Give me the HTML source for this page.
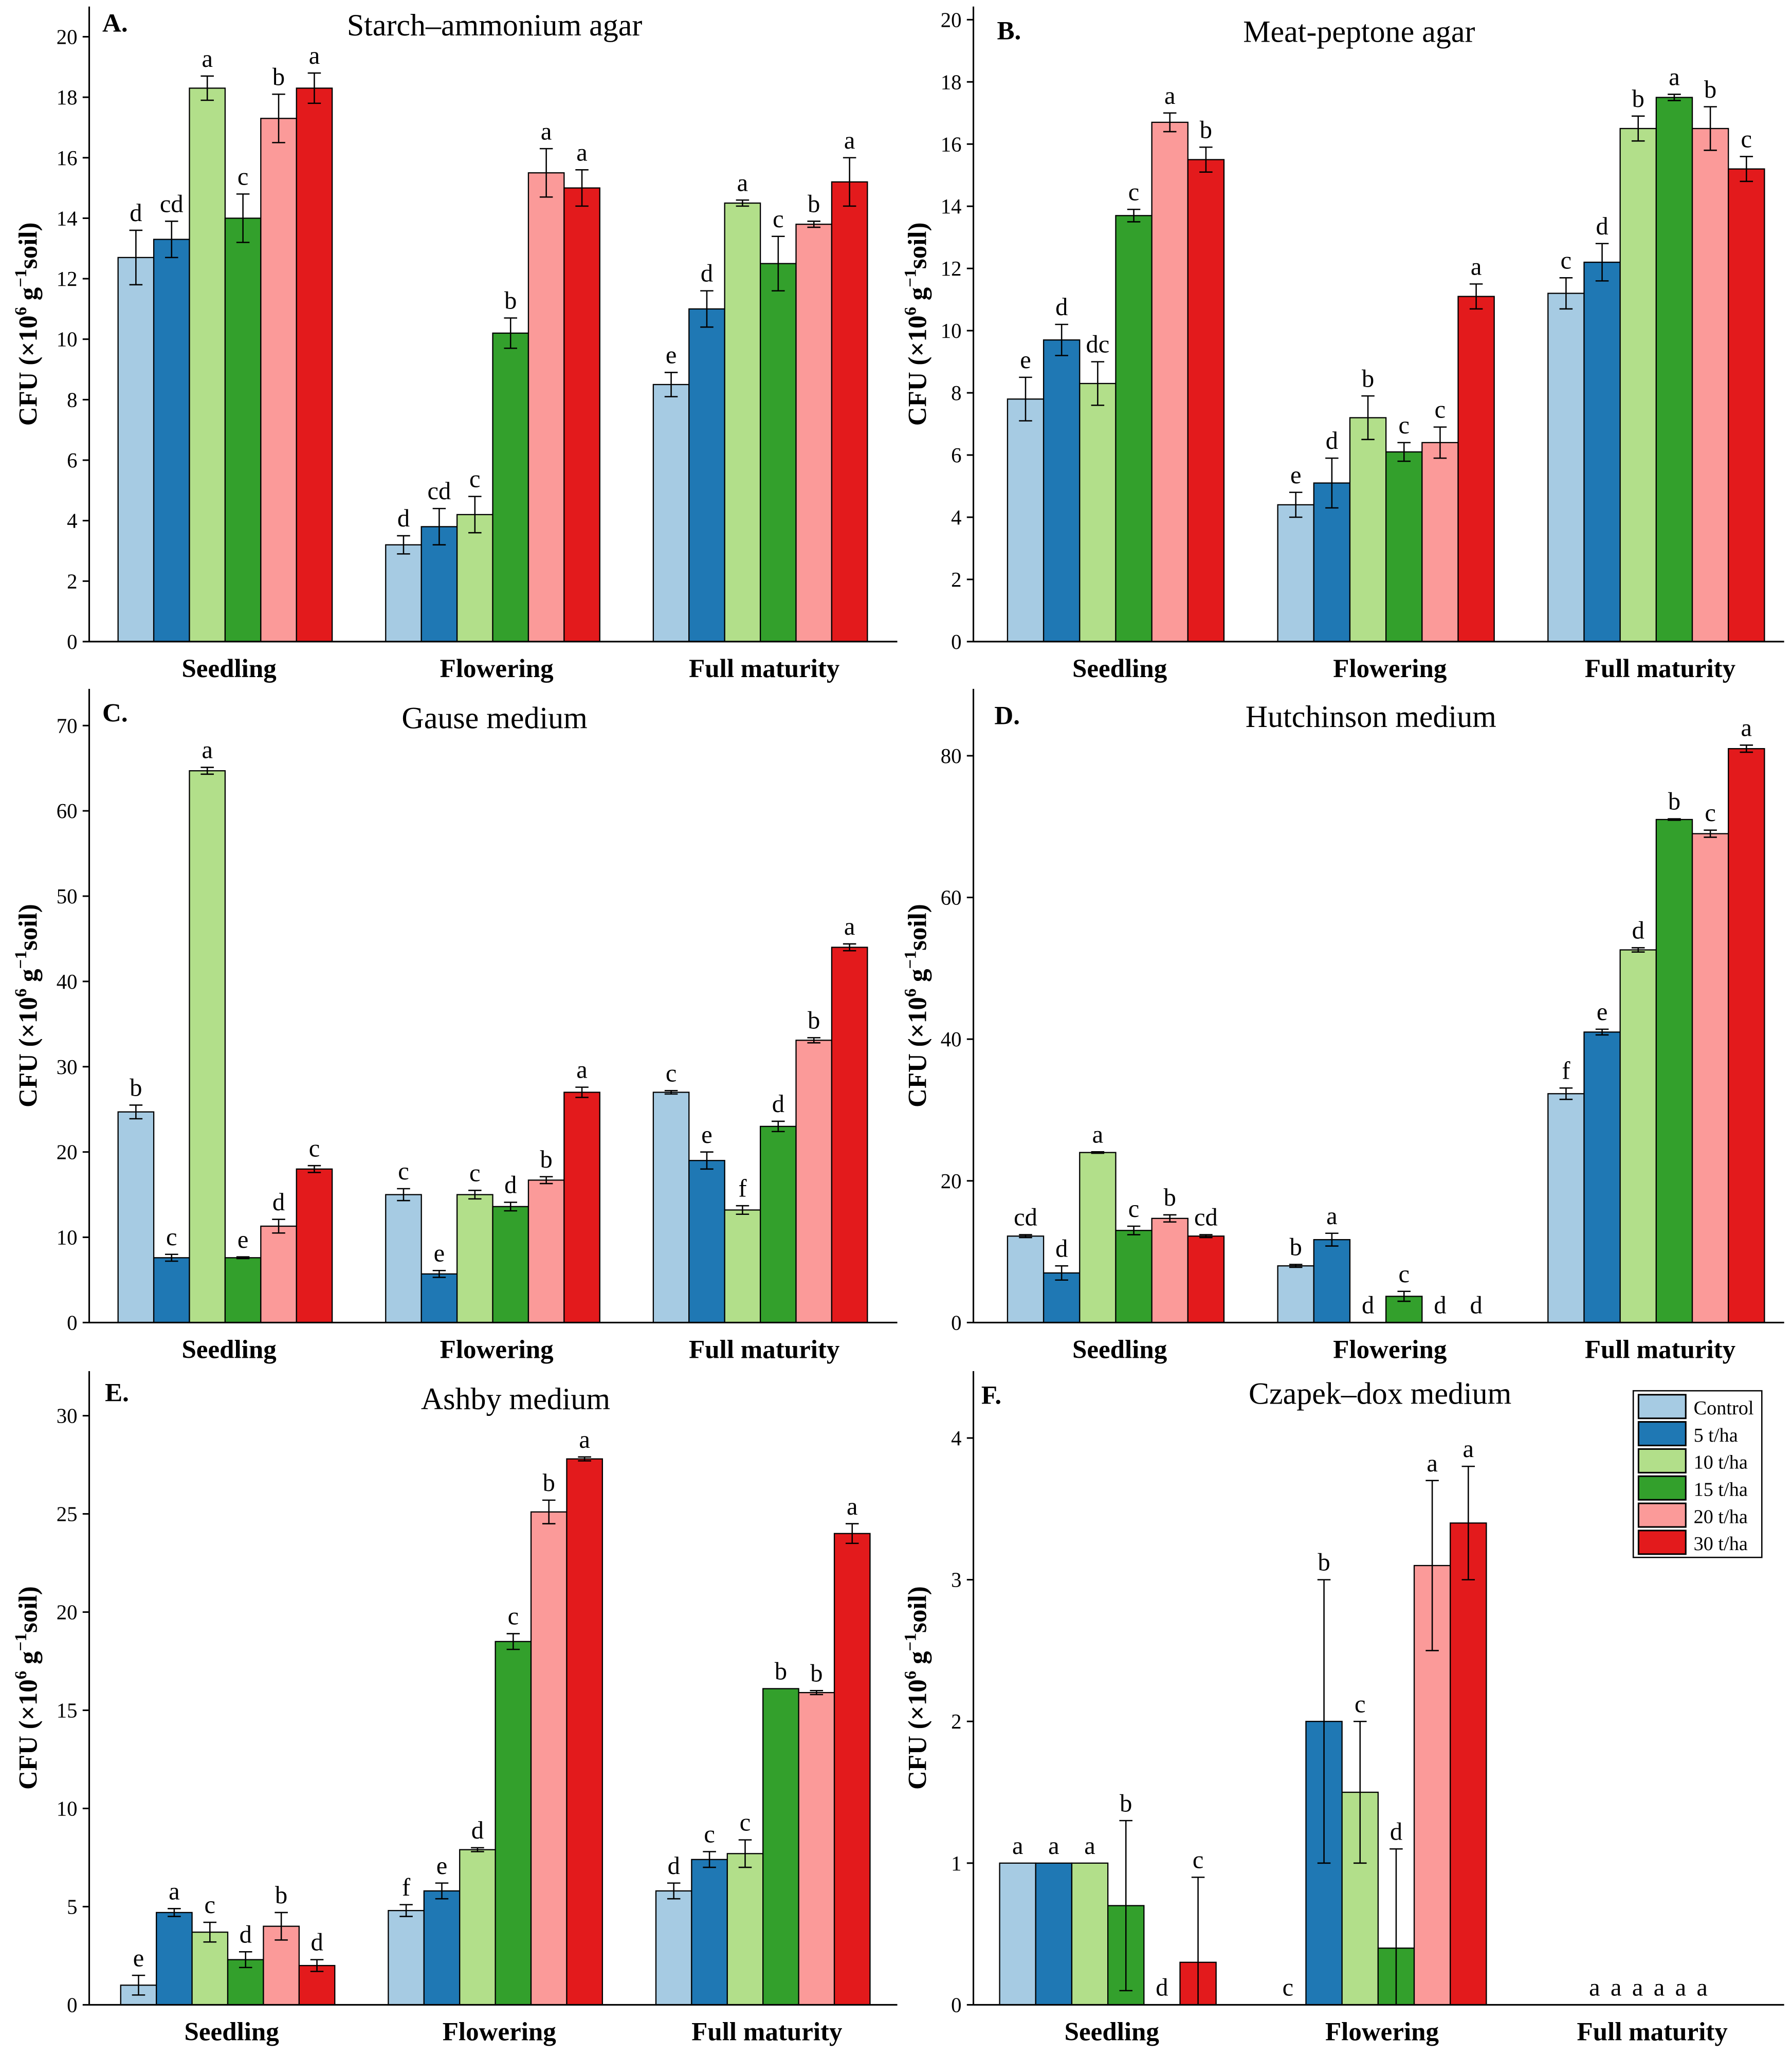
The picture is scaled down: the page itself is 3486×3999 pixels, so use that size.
<!DOCTYPE html>
<html><head><meta charset="utf-8"><style>html,body{margin:0;padding:0;background:#fff}svg{display:block}text{font-family:"Liberation Serif",serif}</style></head>
<body>
<svg id="chart" width="3486" height="3999" viewBox="0 0 1366 1567" xmlns="http://www.w3.org/2000/svg"></svg>
<script>
const categories = ["Seedling","Flowering","Full maturity"];
const seriesNames = ["Control","5 t/ha","10 t/ha","15 t/ha","20 t/ha","30 t/ha"];
const colors = ["#a6cbe3","#1f78b4","#b2df8a","#33a02c","#fb9a99","#e31a1c"];

const aValues = [[12.7,13.3,18.3,14,17.3,18.3],[3.2,3.8,4.2,10.2,15.5,15],[8.5,11,14.5,12.5,13.8,15.2]];
const aErr = [[0.9,0.6,0.4,0.8,0.8,0.5],[0.3,0.6,0.6,0.5,0.8,0.6],[0.4,0.6,0.1,0.9,0.1,0.8]];
const aLetters = [["d","cd","a","c","b","a"],["d","cd","c","b","a","a"],["e","d","a","c","b","a"]];
const aTicks = [0,2,4,6,8,10,12,14,16,18,20];

const bValues = [[7.8,9.7,8.3,13.7,16.7,15.5],[4.4,5.1,7.2,6.1,6.4,11.1],[11.2,12.2,16.5,17.5,16.5,15.2]];
const bErr = [[0.7,0.5,0.7,0.2,0.3,0.4],[0.4,0.8,0.7,0.3,0.5,0.4],[0.5,0.6,0.4,0.1,0.7,0.4]];
const bLetters = [["e","d","dc","c","a","b"],["e","d","b","c","c","a"],["c","d","b","a","b","c"]];
const bTicks = [0,2,4,6,8,10,12,14,16,18,20];

const cValues = [[24.7,7.6,64.7,7.6,11.3,18],[15,5.7,15,13.6,16.7,27],[27,19,13.2,23,33.1,44]];
const cErr = [[0.8,0.4,0.4,0.1,0.8,0.4],[0.7,0.4,0.5,0.5,0.4,0.6],[0.2,1,0.5,0.6,0.3,0.4]];
const cLetters = [["b","c","a","e","d","c"],["c","e","c","d","b","a"],["c","e","f","d","b","a"]];
const cTicks = [0,10,20,30,40,50,60,70];

const dValues = [[12.2,7,24,13,14.7,12.2],[8,11.7,0,3.7,0,0],[32.3,41,52.6,71,69,81]];
const dErr = [[0.2,1,0.1,0.6,0.5,0.2],[0.2,0.9,0,0.7,0,0],[0.8,0.4,0.3,0.1,0.5,0.5]];
const dLetters = [["cd","d","a","c","b","cd"],["b","a","d","c","d","d"],["f","e","d","b","c","a"]];
const dTicks = [0,20,40,60,80];

const eValues = [[1,4.7,3.7,2.3,4,2],[4.8,5.8,7.9,18.5,25.1,27.8],[5.8,7.4,7.7,16.1,15.9,24]];
const eErr = [[0.5,0.2,0.5,0.4,0.7,0.3],[0.3,0.4,0.1,0.4,0.6,0.1],[0.4,0.4,0.7,0,0.1,0.5]];
const eLetters = [["e","a","c","d","b","d"],["f","e","d","c","b","a"],["d","c","c","b","b","a"]];
const eTicks = [0,5,10,15,20,25,30];

const fValues = [[1,1,1,0.7,0,0.3],[0,2,1.5,0.4,3.1,3.4],[0,0,0,0,0,0]];
const fErr = [[0,0,0,0.6,0,0.6],[0,1,0.5,0.7,0.6,0.4],[0,0,0,0,0,0]];
const fLetters = [["a","a","a","b","d","c"],["c","b","c","d","a","a"],["a","a","a","a","a","a"]];
const fTicks = [0,1,2,3,4];

const NS="http://www.w3.org/2000/svg";
const svg=document.getElementById('chart');
function mk(tag,attrs,parent,txt){const e=document.createElementNS(NS,tag);for(const k in attrs)e.setAttribute(k,attrs[k]);if(txt!==undefined)e.textContent=txt;(parent||svg).appendChild(e);return e;}

const panels=[
 {id:"a",letter:"A.",title:"Starch–ammonium agar",vals:aValues,err:aErr,let:aLetters,ticks:aTicks,max:20,x0:68,x1:684,top:5,base:489,ymaxPix:28,gstart:90,gstep:204,bw:27.2,lx:78,ly:24,tx:377,ty:27,ylx:28},
 {id:"b",letter:"B.",title:"Meat-peptone agar",vals:bValues,err:bErr,let:bLetters,ticks:bTicks,max:20,x0:742,x1:1360,top:5,base:489,ymaxPix:15,gstart:768,gstep:206,bw:27.5,lx:760,ly:30,tx:1036,ty:32,ylx:706},
 {id:"c",letter:"C.",title:"Gause medium",vals:cValues,err:cErr,let:cLetters,ticks:cTicks,max:70,x0:68,x1:684,top:525,base:1008,ymaxPix:553,gstart:90,gstep:204,bw:27.2,lx:78,ly:550,tx:377,ty:555,ylx:28},
 {id:"d",letter:"D.",title:"Hutchinson medium",vals:dValues,err:dErr,let:dLetters,ticks:dTicks,max:80,x0:742,x1:1360,top:525,base:1008,ymaxPix:576,gstart:768,gstep:206,bw:27.5,lx:758,ly:552,tx:1045,ty:554,ylx:706},
 {id:"e",letter:"E.",title:"Ashby medium",vals:eValues,err:eErr,let:eLetters,ticks:eTicks,max:30,x0:68,x1:684,top:1045,base:1528,ymaxPix:1079,gstart:92,gstep:204,bw:27.2,lx:80,ly:1068,tx:393,ty:1074,ylx:28},
 {id:"f",letter:"F.",title:"Czapek–dox medium",vals:fValues,err:fErr,let:fLetters,ticks:fTicks,max:4,x0:742,x1:1360,top:1045,base:1528,ymaxPix:1096,gstart:762,gstep:206,bw:27.5,lx:748,ly:1070,tx:1052,ty:1070,ylx:706}
];

panels.forEach(p=>{
  const g=mk('g',{});
  
  
  const y=v=>p.base-(v/p.max)*(p.base-p.ymaxPix);
  p.vals.forEach((grp,gi)=>{
    grp.forEach((v,si)=>{
      const x=p.gstart+gi*p.gstep+si*p.bw;
      if(v>0){
        const r=mk('rect',{x:x,y:y(v),width:p.bw,height:p.base-y(v),fill:colors[si],stroke:'#000','stroke-width':0.9},g);
        
        
      }
      const e=p.err[gi][si];
      let cx=x+p.bw/2;
      if(e>0){
        const eg=mk('g',{stroke:'#000','stroke-width':1},g);
        
        
        mk('line',{x1:cx,x2:cx,y1:y(v+e),y2:y(Math.max(0,v-e))},eg);
        mk('line',{x1:cx-5,x2:cx+5,y1:y(v+e),y2:y(v+e)},eg);
        mk('line',{x1:cx-5,x2:cx+5,y1:y(Math.max(0,v-e)),y2:y(Math.max(0,v-e))},eg);
      }
      const allZero=grp.every(q=>q===0);
      if(allZero) cx=p.gstart+gi*p.gstep+3*p.bw-41+si*16.4;
      const t=mk('text',{x:cx,y:y(v+e)-7,'text-anchor':'middle','font-size':19},g,p.let[gi][si]);
      
      
    });
  });
  const ax=mk('g',{stroke:'#000','stroke-width':1.2},g);
  
  
  mk('line',{x1:p.x0,x2:p.x0,y1:p.top,y2:p.base},ax);
  mk('line',{x1:p.x0,x2:p.x1,y1:p.base,y2:p.base},ax);
  p.ticks.forEach(tv=>{
    mk('line',{x1:p.x0-5,x2:p.x0,y1:y(tv),y2:y(tv)},ax);
    const t=mk('text',{x:p.x0-9,y:y(tv)+5.5,'text-anchor':'end','font-size':16},g,String(tv));
    
    
  });
  categories.forEach((c,gi)=>{
    const cx=p.gstart+gi*p.gstep+3*p.bw+3;
    const t=mk('text',{x:cx,y:p.base+27,'text-anchor':'middle','font-size':20,'font-weight':'bold'},g,c);
    
    
  });
  const yl=mk('text',{x:0,y:0,transform:`translate(${p.ylx},${(p.top+p.base)/2}) rotate(-90)`,'text-anchor':'middle','font-size':20,'font-weight':'bold'},g);
  yl.innerHTML='CFU (×10<tspan dy="-8" font-size="13">6</tspan><tspan dy="8"> g</tspan><tspan dy="-8" font-size="13">−1</tspan><tspan dy="8">soil)</tspan>';
  
  
  const pl=mk('text',{x:p.lx,y:p.ly,'font-size':20,'font-weight':'bold'},g,p.letter);
  
  
  const pt=mk('text',{x:p.tx,y:p.ty,'text-anchor':'middle','font-size':23.5},g,p.title);
  
  
});

const lg=mk('g',{});


mk('rect',{x:1245,y:1060,width:98,height:127,fill:'#fff',stroke:'#000','stroke-width':1},lg);
seriesNames.forEach((n,i)=>{
  const eg=mk('g',{},lg);
  
  
  const yy=1063+i*20.7;
  mk('rect',{x:1249,y:yy,width:36,height:18,fill:colors[i],stroke:'#000','stroke-width':1.2},eg);
  mk('text',{x:1291,y:yy+15,'font-size':15},eg,n);
});
</script>
</body></html>
